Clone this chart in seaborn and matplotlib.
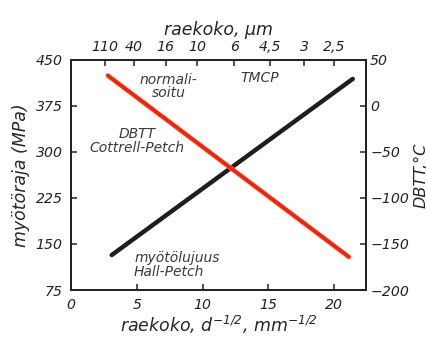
import matplotlib
matplotlib.use("Agg")
import matplotlib.pyplot as plt
import seaborn as sns
import pandas as pd

# data
hp_x = [3.1, 21.4]          # Hall-Petch, myötölujuus
hp_y = [132, 419]           # MPa
cp_x = [2.8, 21.1]          # Cottrell-Petch, DBTT
cp_y = [33, -164]           # °C

left_ticks = [75, 150, 225, 300, 375, 450]
right_ticks = [-200, -150, -100, -50, 0, 50]
bottom_ticks = [0, 5, 10, 15, 20]
top_pos = [2.6, 4.8, 7.2, 9.6, 12.4, 15.1, 17.7, 20.0]
top_labels = ["110", "40", "16", "10", "6", "4,5", "3", "2,5"]

sns.set_style("ticks")
plt.rcParams['font.family'] = ['DejaVu Sans']
plt.rcParams['font.style'] = 'italic'
plt.rcParams['mathtext.fontset'] = 'dejavusans'
plt.rcParams['mathtext.default'] = 'it'
plt.rcParams['axes.edgecolor'] = '#222222'
plt.rcParams['axes.linewidth'] = 1.2

fig = plt.figure(figsize=(4.27, 3.42), dpi=100)
ax = fig.add_axes([0.166, 0.152, 0.691, 0.673])

hp = pd.DataFrame({"x": hp_x, "y": hp_y})
cp = pd.DataFrame({"x": cp_x, "y": cp_y})

sns.lineplot(data=hp, x="x", y="y", ax=ax, color="#1e1e1e", lw=3.2)
ax.set_xlim(0, 22.4)
ax.set_ylim(75, 450)
ax.set_xticks(bottom_ticks)
ax.set_yticks(left_ticks)
ax.tick_params(direction="in", length=4, width=1.1, labelsize=10.2,
               colors="#222222", pad=6)
ax.set_xlabel(r"raekoko, d$^{-1/2}$, mm$^{-1/2}$", fontsize=12.5, labelpad=1)
ax.set_ylabel("myötöraja (MPa)", fontsize=12.5, labelpad=4)

ax2 = ax.twinx()
sns.lineplot(data=cp, x="x", y="y", ax=ax2, color="#ffb030", lw=3.4)
sns.lineplot(data=cp, x="x", y="y", ax=ax2, color="#f5201c", lw=2.8)
ax2.set_ylim(-200, 50)
ax2.set_yticks(right_ticks)
ax2.set_yticklabels([str(t).replace("-", "\u2212") for t in right_ticks])
ax2.tick_params(direction="in", length=4, width=1.1, labelsize=10.2,
                colors="#222222", pad=3)
ax2.set_ylabel("DBTT,°C", fontsize=11.5, labelpad=3)
ax2.set_xlabel("")

ax3 = ax.twiny()
ax3.set_xlim(ax.get_xlim())
ax3.set_xticks(top_pos)
ax3.set_xticklabels(top_labels)
ax3.tick_params(direction="in", length=4, width=1.1, labelsize=10.2,
                colors="#222222", pad=4)
ax3.set_xlabel("raekoko, µm", fontsize=12.5, labelpad=4)

for a in (ax, ax2, ax3):
    for s in a.spines.values():
        s.set_visible(True)

ax.text(7.4, 407, "normali-\nsoitu", fontsize=10, ha="center", va="center",
        linespacing=0.95, color="#3a3a3a")
ax.text(14.3, 421, "TMCP", fontsize=10, ha="center", va="center",
        color="#3a3a3a")
ax.text(5.0, 318, "DBTT\nCottrell-Petch", fontsize=10, ha="center",
        va="center", linespacing=0.95, color="#3a3a3a")
ax.text(4.8, 116, "myötölujuus\nHall-Petch", fontsize=10, ha="left",
        va="center", linespacing=0.95, color="#3a3a3a")

fig.savefig("out.png", dpi=100)
